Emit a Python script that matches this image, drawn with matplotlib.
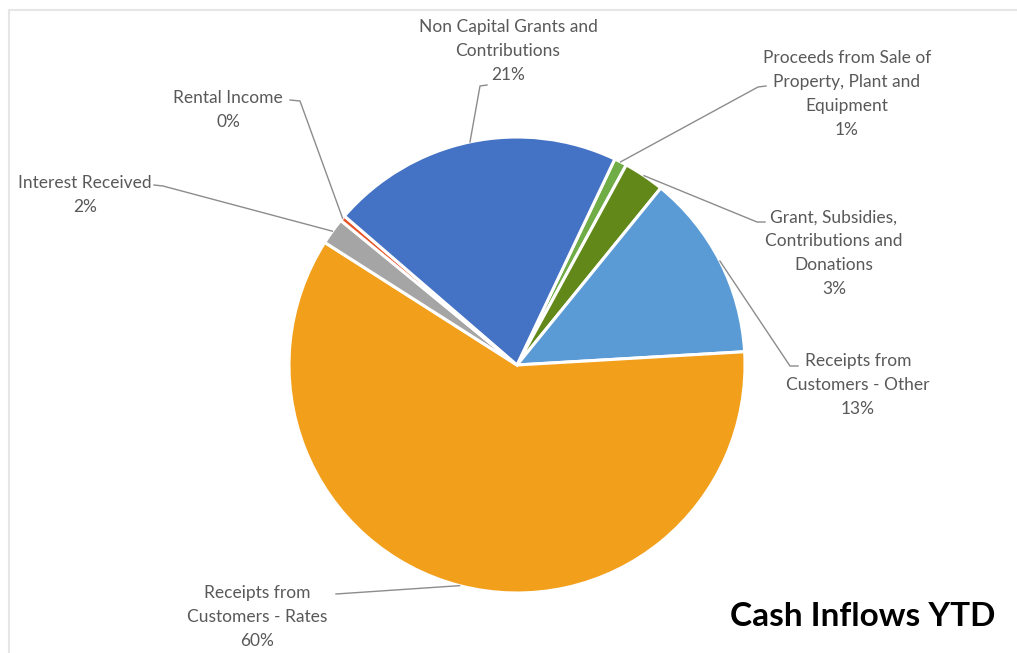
import matplotlib
matplotlib.use("Agg")
import matplotlib.pyplot as plt
import numpy as np

# ---- data (clockwise order, starting just right of 12 o'clock) ----
categories = [
    "Proceeds from Sale of\nProperty, Plant and\nEquipment",
    "Grant, Subsidies,\nContributions and\nDonations",
    "Receipts from\nCustomers - Other",
    "Receipts from\nCustomers - Rates",
    "Interest Received",
    "Rental Income",
    "Non Capital Grants and\nContributions",
]
values = [0.9, 2.9, 13.2, 59.9, 1.9, 0.4, 20.7]
colors = ["#70AD47", "#62881A", "#5B9BD5", "#F29F1C", "#A5A5A5", "#E8542A", "#4472C4"]
title = "Cash Inflows YTD"

W, H = 1017, 653
fig = plt.figure(figsize=(W / 100, H / 100), dpi=100)
ax = fig.add_axes([0, 0, 1, 1])

def Y(y):  # screen pixel y -> data y
    return H - y

cx, cy, R = 517, 365, 228
wedges, _ = ax.pie(values, colors=colors, startangle=64.6, counterclock=False,
                   radius=R, center=(cx, Y(cy)),
                   wedgeprops=dict(edgecolor="white", linewidth=2.2), frame=True)
ax.set_xlim(0, W)
ax.set_ylim(0, H)
ax.set_aspect("equal")
ax.axis("off")

# faint chart border (top and left edges visible)
ax.plot([W, 9, 9], [Y(10), Y(10), 0], color="#E6E6E6", lw=1.5, zorder=0)

total = sum(values)
# layout: text centre (screen px), tick start, tick end (leader start)
layout = [
    ((847, 94), (766, 86), (758, 87)),
    ((834, 253), (765, 222), (757, 222)),
    ((858, 385), (798, 366), (790, 366)),
    ((257, 617), (336, 594), (336, 594)),
    ((85, 195), (154, 185), (163, 186)),
    ((228, 110), (290, 100), (300, 101)),
    ((508, 51), (487, 85), (480, 86)),
]

txtcolor = "#595959"
for w, cat, v, (tc, t0, t1) in zip(wedges, categories, values, layout):
    pct = f"{round(v / total * 100)}%"
    ax.text(tc[0], Y(tc[1]), f"{cat}\n{pct}", ha="center", va="center",
            fontsize=12.5, family="Lato", color=txtcolor, linespacing=1.6)
    mid = np.deg2rad((w.theta1 + w.theta2) / 2)
    ex, ey = cx + R * np.cos(mid), Y(cy) + R * np.sin(mid)
    ax.plot([t0[0], t1[0], ex], [Y(t0[1]), Y(t1[1]), ey],
            color="#8C8C8C", lw=1.0, zorder=3)

ax.text(863, Y(617), title, ha="center", va="center", fontsize=24,
        fontweight="bold", family="Lato", color="black")

fig.savefig("out.png", dpi=100)
